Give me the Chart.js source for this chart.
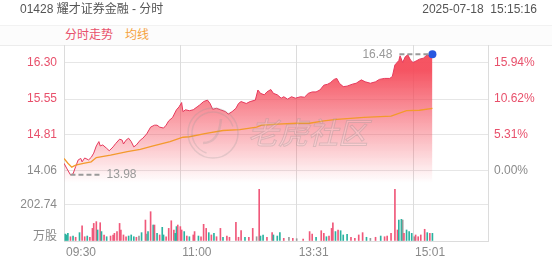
<!DOCTYPE html>
<html>
<head>
<meta charset="utf-8">
<script src="https://cdn.jsdelivr.net/npm/chart.js@4.4.1/dist/chart.umd.min.js"></script>
<style>
    html, body { margin: 0; padding: 0; background: #fff; }
    #wrap { position: relative; width: 552px; height: 265px; overflow: hidden;
            font-family: "Liberation Sans", Arial, "Noto Sans CJK SC", sans-serif; }
    .title { position: absolute; left: 20px; top: 1px; font-size: 12px; line-height: 16px; color: #555; }
    .time { position: absolute; right: 15px; top: 1px; font-size: 12px; line-height: 16px; color: #555; white-space: pre; }
    .tabs { position: absolute; left: 0; top: 25px; width: 552px; height: 19px;
            border-top: 1px solid #f2f2f2; border-bottom: 1px solid #ececec; background: #fcfcfc; }
    .tab { position: absolute; top: 1px; font-size: 12px; line-height: 16px; }
    canvas { position: absolute; left: 0; top: 0; }
</style>
</head>
<body>
<div id="wrap">
    <div class="tabs">
        <span class="tab" style="left:65px;color:#e8506b">分时走势</span>
        <span class="tab" style="left:125px;color:#f5a23c">均线</span>
    </div>
    <canvas id="chart" width="552" height="265"></canvas>
    <div class="title">01428 耀才证券金融 - 分时</div>
    <div class="time">2025-07-18  15:15:16</div>
</div>
<script>
// minutes counted from 09:30, lunch break removed
var prevClose = 14.06;

var priceMinutes = [0, 2, 5, 7, 9, 11, 13, 14, 16, 19,
    21, 23, 25, 27, 28, 30, 33, 35, 38, 40,
    43, 45, 46, 48, 50, 52, 54, 56, 59, 61,
    64, 67, 70, 72, 74, 77, 79, 81, 84, 87,
    89, 91, 92, 94, 97, 100, 103, 105, 108, 111,
    113, 115, 118, 121, 125, 127, 130, 133, 135, 137,
    141, 144, 148, 150, 152, 155, 157, 160, 162, 165,
    168, 170, 173, 176, 179, 183, 186, 189, 192, 195,
    198, 201, 204, 206, 209, 211, 213, 216, 219, 223,
    226, 230, 233, 237, 241, 244, 248, 252, 254, 256,
    259, 260, 262, 264, 266, 268, 270, 273, 275, 278,
    281, 283, 285];
var prices = [14.22, 14.12, 13.98, 14.00, 14.15, 14.29, 14.32, 14.25, 14.33, 14.29,
    14.34, 14.43, 14.58, 14.67, 14.58, 14.60, 14.53, 14.48, 14.56, 14.63,
    14.72, 14.70, 14.62, 14.70, 14.74, 14.67, 14.56, 14.60, 14.70, 14.74,
    14.83, 14.97, 15.01, 15.01, 14.97, 14.95, 15.01, 15.10, 15.17, 15.33,
    15.39, 15.48, 15.29, 15.33, 15.31, 15.33, 15.39, 15.43, 15.50, 15.53,
    15.46, 15.34, 15.36, 15.33, 15.29, 15.24, 15.29, 15.36, 15.46, 15.50,
    15.46, 15.50, 15.53, 15.74, 15.67, 15.64, 15.70, 15.75, 15.67, 15.64,
    15.57, 15.60, 15.55, 15.60, 15.57, 15.60, 15.59, 15.67, 15.70, 15.70,
    15.74, 15.84, 15.86, 15.89, 15.96, 15.98, 15.88, 15.81, 15.82, 15.86,
    15.88, 15.95, 15.91, 15.88, 15.91, 15.96, 15.98, 15.98, 16.02, 16.26,
    16.35, 16.45, 16.31, 16.43, 16.47, 16.36, 16.31, 16.35, 16.38, 16.40,
    16.47, 16.45, 16.48];

var avgMinutes = [0, 3, 6, 9, 15, 21, 25, 36, 49, 59, 69, 82, 92, 97, 110,
    123, 136, 149, 153, 165, 180, 190, 201, 211, 232, 253, 265, 275, 285];
var avgPrices = [14.32, 14.22, 14.14, 14.18, 14.22, 14.25, 14.34, 14.39, 14.46, 14.51, 14.58, 14.67, 14.76, 14.77, 14.84,
    14.90, 14.92, 14.97, 15.01, 15.03, 15.05, 15.05, 15.10, 15.13, 15.17, 15.20, 15.31, 15.32, 15.36];

// volume in 万股, u = up (red), d = down (green), f = flat (grey)
var volMinutes = [1, 2, 3, 5, 7, 9, 12, 14, 16, 18, 20, 22, 23, 25, 26, 28, 29, 31, 33, 36,
    38, 39, 41, 43, 44, 46, 48, 50, 52, 54, 56, 58, 60, 63, 64, 65, 67, 69, 70, 72,
    74, 76, 77, 79, 81, 83, 85, 86, 87, 88, 90, 91, 93, 95, 97, 100, 101, 104, 106, 108,
    110, 112, 114, 116, 118, 121, 123, 126, 128, 133, 135, 137, 140, 143, 146, 149, 151, 152, 154, 157,
    161, 162, 165, 167, 170, 174, 177, 180, 185, 190, 192, 195, 199, 201, 203, 205, 207, 208, 210, 212,
    214, 216, 219, 222, 225, 228, 231, 234, 237, 241, 245, 248, 250, 253, 256, 258, 259, 261, 262, 263,
    265, 267, 269, 271, 272, 274, 276, 279, 281, 283, 285];
var volumes = [39, 34, 43, 24, 28, 21, 47, 86, 24, 28, 21, 71, 99, 109, 62, 103, 53, 34, 24, 28,
    34, 43, 53, 99, 62, 34, 24, 28, 34, 24, 21, 28, 47, 118, 39, 53, 165, 90, 90, 43,
    34, 77, 34, 24, 71, 114, 62, 43, 81, 90, 81, 62, 53, 28, 24, 34, 53, 28, 24, 94,
    71, 47, 34, 43, 24, 71, 21, 28, 21, 105, 21, 58, 21, 21, 71, 24, 291, 28, 34, 21,
    47, 34, 28, 47, 15, 21, 15, 13, 11, 53, 39, 21, 58, 43, 24, 28, 71, 103, 53, 62,
    58, 34, 38, 21, 15, 34, 47, 21, 15, 21, 28, 24, 28, 43, 291, 62, 118, 122, 118, 43,
    62, 53, 43, 24, 34, 24, 34, 66, 47, 43, 43];
var volDirs = ['d', 'd', 'd', 'u', 'd', 'u', 'd', 'u', 'u', 'd', 'u', 'u', 'u', 'u', 'd', 'u', 'd', 'u', 'd', 'u',
    'u', 'u', 'u', 'u', 'u', 'u', 'u', 'd', 'd', 'd', 'u', 'f', 'd', 'u', 'f', 'd', 'u', 'd', 'u', 'd',
    'u', 'd', 'd', 'u', 'u', 'u', 'u', 'd', 'd', 'u', 'u', 'u', 'd', 'u', 'd', 'u', 'u', 'd', 'u', 'u',
    'u', 'd', 'u', 'd', 'u', 'u', 'd', 'u', 'u', 'u', 'u', 'u', 'd', 'u', 'u', 'f', 'u', 'd', 'd', 'u',
    'u', 'd', 'd', 'd', 'u', 'f', 'u', 'f', 'u', 'u', 'u', 'd', 'u', 'u', 'd', 'u', 'u', 'u', 'd', 'u',
    'd', 'd', 'd', 'u', 'u', 'u', 'u', 'd', 'f', 'u', 'd', 'u', 'u', 'u', 'u', 'u', 'd', 'd', 'f', 'u',
    'd', 'd', 'd', 'f', 'u', 'u', 'u', 'u', 'd', 'u', 'd'];

var xTickMinutes = [0, 90, 180, 270, 328];
var xTickLabels = ['09:30', '11:00', '13:31', '15:01', ''];
var priceTicks = [14.06, 14.81, 15.55, 16.30];
var priceTickLabels = ['14.06', '14.81', '15.55', '16.30'];
var pctTickLabels = ['0.00%', '5.31%', '10.62%', '15.94%'];
var volTicks = [0, 202.74];
var volTickLabels = ['', '202.74'];
var volUnit = '万股';

var RED = '#e8506b';
var GREY = '#8a8a8a';
var volColors = { u: '#f0587a', d: '#2ab3a0', f: '#999999' };

Chart.defaults.font.family = '"Liberation Sans", Arial, "Noto Sans CJK SC", sans-serif';
Chart.defaults.font.size = 12;

function toPoints(xs, ys) {
    return xs.map(function (x, i) {
        return { x: x, y: ys[i] };
    });
}

var overlay = {
    id: 'overlay',
    afterDatasetsDraw: function (chart) {
        var ctx = chart.ctx;
        var area = chart.chartArea;
        var x = chart.scales.x;
        var y = chart.scales.y;

        // watermark
        ctx.save();
        var cx = area.left + 149;
        var cy = area.top + 88;
        ctx.strokeStyle = 'rgba(150,150,150,0.25)';
        ctx.lineWidth = 1.5;
        ctx.beginPath();
        ctx.arc(cx, cy, 25, 0, Math.PI * 2);
        ctx.stroke();
        ctx.beginPath();
        ctx.arc(cx, cy, 21, Math.PI * 0.6, Math.PI * 1.9);
        ctx.stroke();
        ctx.lineWidth = 2.5;
        ctx.beginPath();
        ctx.moveTo(cx + 8, cy - 14);
        ctx.quadraticCurveTo(cx + 6, cy + 10, cx - 10, cy + 10);
        ctx.stroke();
        ctx.font = 'italic 30px "Noto Sans CJK SC"';
        ctx.textBaseline = 'middle';
        ctx.textAlign = 'left';
        ctx.lineWidth = 1;
        ctx.fillStyle = 'rgba(255,255,255,0.15)';
        ctx.fillText('老虎社区', area.left + 184, cy);
        ctx.strokeStyle = 'rgba(140,140,140,0.3)';
        ctx.strokeText('老虎社区', area.left + 184, cy);
        ctx.restore();

        // high / low marks
        var hi = 0, lo = 0;
        prices.forEach(function (p, i) {
            if (p >= prices[hi]) hi = i;
            if (p < prices[lo]) lo = i;
        });
        [hi, lo].forEach(function (idx) {
            var px = x.getPixelForValue(priceMinutes[idx]);
            var py = y.getPixelForValue(prices[idx]);
            var dir = px > area.right - 90 ? -1 : 1;
            var start = px + dir * (dir < 0 ? 4 : 0);
            ctx.save();
            ctx.strokeStyle = '#9a9a9a';
            ctx.lineWidth = 2;
            ctx.setLineDash([5, 3]);
            ctx.beginPath();
            ctx.moveTo(start, py);
            ctx.lineTo(start + dir * 30, py);
            ctx.stroke();
            ctx.fillStyle = '#999';
            ctx.font = '12px "Liberation Sans", Arial, sans-serif';
            ctx.textBaseline = 'middle';
            ctx.textAlign = dir < 0 ? 'right' : 'left';
            ctx.fillText(prices[idx].toFixed(2), start + dir * 36, py);
            ctx.restore();
        });
    },
    afterDraw: function (chart) {
        var ctx = chart.ctx;
        var area = chart.chartArea;
        var y = chart.scales.y;
        var yv = chart.scales.yv;
        ctx.save();
        ctx.font = '12px "Liberation Sans", Arial, sans-serif';
        ctx.textBaseline = 'middle';
        ctx.textAlign = 'left';
        priceTicks.forEach(function (v, i) {
            ctx.fillStyle = v > prevClose + 0.001 ? RED : GREY;
            ctx.fillText(pctTickLabels[i], area.right + 6, y.getPixelForValue(v));
        });
        ctx.textAlign = 'right';
        ctx.fillStyle = GREY;
        ctx.font = '12px "Noto Sans CJK SC", sans-serif';
        ctx.fillText(volUnit, area.left - 7, yv.bottom - 6);
        ctx.restore();
    }
};

new Chart(document.getElementById('chart'), {
    type: 'line',
    data: {
        datasets: [
            {
                label: '均线',
                data: toPoints(avgMinutes, avgPrices),
                borderColor: '#f39a2c',
                borderWidth: 1.3,
                pointRadius: 0,
                tension: 0,
                xAxisID: 'x',
                yAxisID: 'y'
            },
            {
                label: '分时',
                data: toPoints(priceMinutes, prices),
                borderColor: '#e6395c',
                borderWidth: 1,
                tension: 0,
                fill: 'start',
                backgroundColor: function (context) {
                    var chart = context.chart;
                    var ys = chart.scales.y;
                    if (!ys || !chart.chartArea) {
                        return 'rgba(245,75,90,0.3)';
                    }
                    var g = chart.ctx.createLinearGradient(0, ys.top + 25, 0, ys.bottom);
                    g.addColorStop(0, 'rgba(245,75,90,0.95)');
                    g.addColorStop(1, 'rgba(245,75,90,0)');
                    return g;
                },
                pointRadius: function (context) {
                    return context.dataIndex === prices.length - 1 ? 4 : 0;
                },
                pointBackgroundColor: '#2757e0',
                pointBorderWidth: 0,
                xAxisID: 'x',
                yAxisID: 'y'
            },
            {
                type: 'bar',
                label: '成交量',
                data: toPoints(volMinutes, volumes),
                backgroundColor: function (context) {
                    return volColors[volDirs[context.dataIndex]];
                },
                barThickness: 1,
                borderWidth: 0,
                grouped: false,
                xAxisID: 'x',
                yAxisID: 'yv'
            }
        ]
    },
    options: {
        responsive: false,
        animation: false,
        devicePixelRatio: 1,
        layout: { padding: { top: 45, right: 64, left: 0, bottom: 0 } },
        plugins: {
            legend: { display: false },
            tooltip: { enabled: false }
        },
        scales: {
            yv: {
                type: 'linear',
                position: 'left',
                stack: 'main',
                stackWeight: 58,
                min: 0,
                max: 326.6,
                afterBuildTicks: function (scale) {
                    scale.ticks = volTicks.map(function (v) { return { value: v }; });
                },
                afterFit: function (scale) { scale.width = 64; },
                ticks: {
                    padding: 7,
                    color: GREY,
                    callback: function (v, i) { return volTickLabels[i]; }
                },
                grid: { color: '#e6e6e6', drawTicks: false },
                border: { display: false }
            },
            y: {
                type: 'linear',
                position: 'left',
                stack: 'main',
                stackWeight: 138,
                min: 13.811,
                max: 16.673,
                afterBuildTicks: function (scale) {
                    scale.ticks = priceTicks.map(function (v) { return { value: v }; });
                },
                afterFit: function (scale) { scale.width = 64; },
                ticks: {
                    padding: 7,
                    color: function (context) {
                        return context.tick && context.tick.value > prevClose + 0.001 ? RED : GREY;
                    },
                    callback: function (v, i) { return priceTickLabels[i]; }
                },
                grid: { color: '#e6e6e6', drawTicks: false },
                border: { display: false }
            },
            x: {
                type: 'linear',
                min: 0,
                max: 328,
                offset: false,
                afterBuildTicks: function (scale) {
                    scale.ticks = xTickMinutes.map(function (v) { return { value: v }; });
                },
                afterFit: function (scale) { scale.height = 24; },
                ticks: {
                    align: 'start',
                    padding: 4,
                    labelOffset: 2,
                    maxRotation: 0,
                    autoSkip: false,
                    color: GREY,
                    callback: function (v, i) { return xTickLabels[i]; }
                },
                grid: { color: '#dcdcdc', drawTicks: false, offset: false },
                border: { display: true, color: '#dcdcdc' }
            }
        }
    },
    plugins: [overlay]
});
</script>
</body>
</html>
